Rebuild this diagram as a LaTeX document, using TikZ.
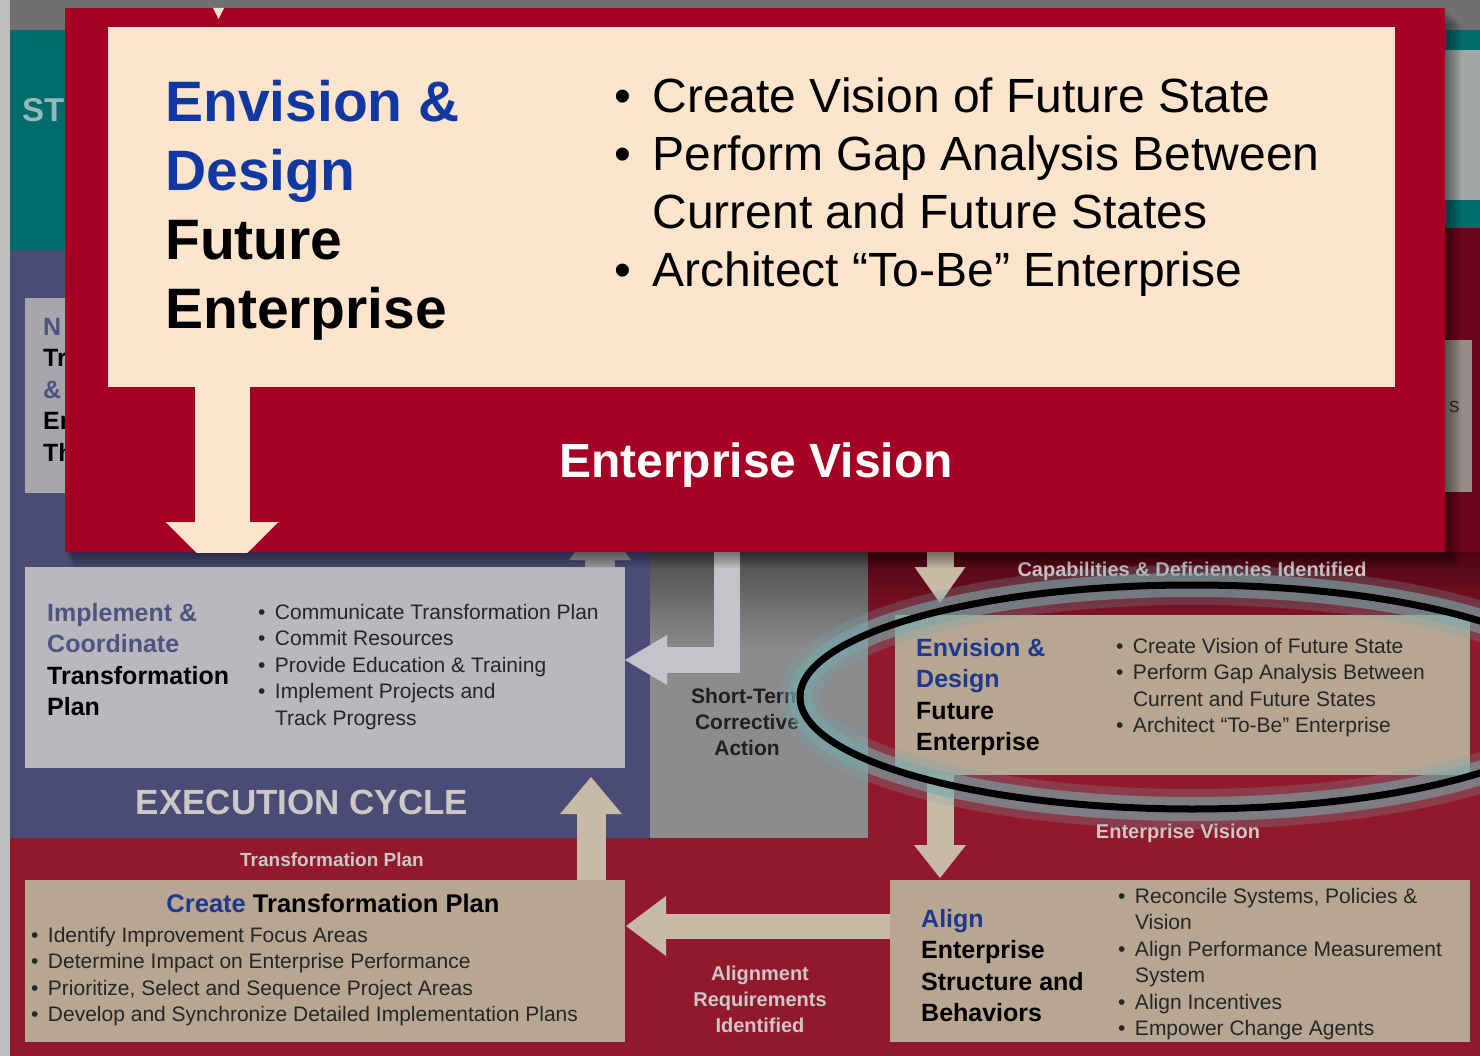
\documentclass[tikz,border=0pt]{standalone}
\usepackage{fontspec}
\setmainfont{Liberation Sans}
\usetikzlibrary{arrows.meta,calc}

\definecolor{visionred}{RGB}{166,0,36}
\definecolor{visioncream}{RGB}{253,228,204}
\definecolor{titleblue}{RGB}{16,56,160}
\definecolor{dimblue}{RGB}{30,56,140}
\definecolor{slatetext}{RGB}{82,82,128}
\definecolor{darktext}{RGB}{38,38,38}
\definecolor{edgegrey}{RGB}{190,190,190}
\definecolor{topgrey}{RGB}{112,112,112}
\definecolor{bgteal}{RGB}{0,108,108}
\definecolor{tealtext}{RGB}{150,186,186}
\definecolor{panelgrey}{RGB}{160,166,166}
\definecolor{bgdarkred}{RGB}{108,6,28}
\definecolor{bgslate}{RGB}{74,76,118}
\definecolor{bggrey}{RGB}{140,140,142}
\definecolor{bgred}{RGB}{146,24,44}
\definecolor{sidegrey}{RGB}{166,166,172}
\definecolor{stakegrey}{RGB}{150,140,138}
\definecolor{boxgrey}{RGB}{184,184,190}
\definecolor{boxtan}{RGB}{182,166,146}
\definecolor{arrowtan}{RGB}{200,186,166}
\definecolor{arrowgrey}{RGB}{196,196,200}
\definecolor{labelgrey}{RGB}{204,200,200}
\definecolor{glowteal}{RGB}{120,168,170}

\newcommand{\bul}{\makebox[0.8em][l]{\textbullet}}
\newcommand{\ind}{\hspace*{0.8em}}

\begin{document}
\begin{tikzpicture}[x=1pt,y=-1pt,
  panel/.style={inner sep=0pt,outer sep=0pt,anchor=north west},
  bigtitle/.style={inner sep=0pt,anchor=north west,align=left,font=\bfseries\fontsize{57}{69}\selectfont},
  biglist/.style={inner sep=0pt,anchor=north west,align=left,font=\fontsize{48}{58}\selectfont},
  boxtitle/.style={inner sep=0pt,anchor=north west,align=left,text=black,font=\bfseries\fontsize{25}{31.5}\selectfont},
  boxlist/.style={inner sep=0pt,anchor=north west,align=left,text=darktext,font=\fontsize{21}{26.5}\selectfont},
  flowlabel/.style={inner sep=0pt,align=center,text=labelgrey,font=\bfseries\fontsize{20}{26}\selectfont},
  blockarrow/.style n args={3}{line width=#1pt,-{Triangle[width=#2pt,length=#3pt,line width=0pt]}}]

\useasboundingbox (0,0) rectangle (1480,1056);

% roadmap behind the callout
\fill[edgegrey] (0,0) rectangle (1480,1056);
\fill[topgrey] (10,0) rectangle (1480,30);
\fill[bgteal] (10,30) rectangle (1480,250);
\fill[panelgrey] (1445,50) rectangle (1480,200);
\fill[bgdarkred] (1445,228) rectangle (1480,552);
\fill[bgslate] (10,250) rectangle (650,838);
\fill[bggrey] (650,552) rectangle (868,838);
\shade[top color=bggrey!55!black, bottom color=bggrey] (650,552) rectangle (868,650);
\fill[bgred] (868,552) rectangle (1480,838);
\shade[top color=bgdarkred!70!black, bottom color=bgred] (868,552) rectangle (1480,640);
\fill[bgred] (10,838) rectangle (1480,1056);

\node[panel, fill=sidegrey, minimum width=75pt, minimum height=195pt] (nurturebox) at (25,298) {};
\node[panel, fill=stakegrey, minimum width=27pt, minimum height=152pt] (stakebox) at (1445,340) {};
\node[panel, fill=boxgrey, minimum width=600pt, minimum height=201pt] (implbox) at (25,567) {};
\node[panel, fill=boxtan, minimum width=575pt, minimum height=160pt] (envbox) at (895,615) {};
\node[panel, fill=boxtan, minimum width=580pt, minimum height=162pt] (alignbox) at (890,880) {};
\node[panel, fill=boxtan, minimum width=600pt, minimum height=162pt] (createbox) at (25,880) {};

% block arrows
\coordinate (captop) at (940,545);
\coordinate (corrtop) at (727,540);
\coordinate (impltip) at (600,520);
\draw[blockarrow={27}{51}{36}, draw=arrowtan] (captop) -- ($(envbox.north west)+(45,-12)$);
\draw[blockarrow={27}{52}{33}, draw=arrowtan] ($(envbox.south west)+(45,0)$) -- ($(alignbox.north west)+(50,-2)$);
\draw[blockarrow={25}{60}{40}, draw=arrowtan] ($(alignbox.north west)+(0,46)$) -- ($(createbox.north east)+(1,46)$);
\draw[blockarrow={29}{62}{37}, draw=arrowtan] ($(createbox.north west)+(566,0)$) -- ($(implbox.south west)+(566,9)$);
\draw[blockarrow={26}{50}{42}, draw=arrowgrey, line join=miter] (corrtop) |- ($(implbox.north east)+(0,93)$);
\draw[blockarrow={30}{62}{40}, draw=arrowgrey!80!black] ($(implbox.north west)+(575,0)$) -- (impltip);

% texts of the roadmap
\node[inner sep=0pt, anchor=west, text=tealtext, font=\bfseries\fontsize{33}{36}\selectfont] (stratlabel) at (22,110) {ST};
\node[boxtitle] (nurturetitle) at (43,318) {\textcolor{slatetext}{N}\\ Tr\\ \textcolor{slatetext}{\&}\\ En\\ Th};
\node[boxlist, anchor=west, text=black!80] (stakelabel) at (1449,407) {s};
\node[boxtitle] (impltitle) at (47,603) {\textcolor{slatetext}{Implement \&}\\ \textcolor{slatetext}{Coordinate}\\ Transformation\\ Plan};
\node[boxlist] (impllist) at (258,604) {\bul Communicate Transformation Plan\\ \bul Commit Resources\\ \bul Provide Education \& Training\\ \bul Implement Projects and\\ \ind Track Progress};
\node[inner sep=0pt, text=labelgrey, font=\bfseries\fontsize{35}{40}\selectfont] (execlabel) at (302,802) {EXECUTION CYCLE};
\node[flowlabel, text=black!88, font=\bfseries\fontsize{21}{26}\selectfont] (corrlabel) at (747,722) {Short-Term\\ Corrective\\ Action};
\node[flowlabel] (caplabel) at (1192,571) {Capabilities \& Deficiencies Identified};
\node[boxtitle] (envtitle) at (916,638) {\textcolor{dimblue}{Envision \&}\\ \textcolor{dimblue}{Design}\\ Future\\ Enterprise};
\node[boxlist] (envlist) at (1116,638) {\bul Create Vision of Future State\\ \bul Perform Gap Analysis Between\\ \ind Current and Future States\\ \bul Architect “To-Be” Enterprise};
\node[flowlabel] (visionflow) at (1178,833) {Enterprise Vision};
\node[boxtitle] (aligntitle) at (921,909) {\textcolor{dimblue}{Align}\\ Enterprise\\ Structure and\\ Behaviors};
\node[boxlist] (alignlist) at (1118,888) {\bul Reconcile Systems, Policies \&\\ \ind Vision\\ \bul Align Performance Measurement\\ \ind System\\ \bul Align Incentives\\ \bul Empower Change Agents};
\node[flowlabel] (alignflow) at (760,999) {Alignment\\ Requirements\\ Identified};
\node[flowlabel, font=\bfseries\fontsize{19}{24}\selectfont] (planflow) at (332,860) {Transformation Plan};
\node[inner sep=0pt, anchor=base, font=\bfseries\fontsize{25.5}{31.5}\selectfont] (createtitle) at (333,912) {\textcolor{dimblue}{Create} Transformation Plan};
\node[boxlist] (createlist) at (31,927) {\bul Identify Improvement Focus Areas\\ \bul Determine Impact on Enterprise Performance\\ \bul Prioritize, Select and Sequence Project Areas\\ \bul Develop and Synchronize Detailed Implementation Plans};

% highlight ring
\draw[glowteal, line width=40pt, opacity=.25] (1192,697) ellipse [x radius=392, y radius=112];
\draw[glowteal, line width=24pt, opacity=.6] (1192,697) ellipse [x radius=392, y radius=112];
\draw[black, line width=7pt] (1192,697) ellipse [x radius=392, y radius=112];

% callout with its shadow
\foreach \s in {2,4,...,16}
  \fill[black, opacity=.06] (65+\s/2,8+\s) rectangle (1445+\s,552+\s);
\node[panel, fill=visionred, minimum width=1380pt, minimum height=544pt] (vision) at (65,8) {};
\node[panel, fill=visioncream, minimum width=1287pt, minimum height=360pt] (visionin) at (108,27) {};
\coordinate (visiontip) at (222,578);
\begin{scope}
  \clip (vision.north west) rectangle (vision.south east);
  \draw[blockarrow={55}{113}{56}, draw=visioncream] ($(visionin.south west)+(114,-1)$) -- (visiontip);
\end{scope}
\fill[visioncream] (213,8) -- (224,8) -- (218.5,19) -- cycle;
\node[bigtitle] (visiontitle) at (165,80) {\textcolor{titleblue}{Envision \&}\\ \textcolor{titleblue}{Design}\\ Future\\ Enterprise};
\node[biglist] (visionlist) at (614,78) {\bul Create Vision of Future State\\ \bul Perform Gap Analysis Between\\ \ind Current and Future States\\ \bul Architect “To-Be” Enterprise};
\node[inner sep=0pt, text=white, font=\bfseries\fontsize{48}{58}\selectfont] (visionlabel) at (756,465) {Enterprise Vision};
\end{tikzpicture}
\end{document}
